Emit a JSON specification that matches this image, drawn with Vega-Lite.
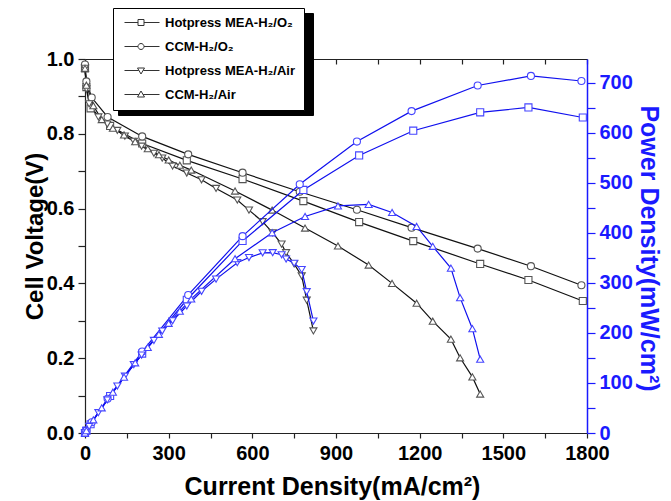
{
  "$schema": "https://vega.github.io/schema/vega-lite/v6.json",
  "width": 502,
  "height": 374,
  "autosize": {"type": "none"},
  "padding": {"left": 85, "top": 59, "right": 84, "bottom": 68},
  "background": "white",
  "config": {"view": {"stroke": null}, "font": "Liberation Sans"},
  "datasets": {
    "curves": [
    {"s": "Hotpress MEA-H₂/O₂", "j": 0, "v": 0.975, "p": 0},
    {"s": "Hotpress MEA-H₂/O₂", "j": 5, "v": 0.925, "p": 4.6},
    {"s": "Hotpress MEA-H₂/O₂", "j": 20, "v": 0.868, "p": 17.4},
    {"s": "Hotpress MEA-H₂/O₂", "j": 90, "v": 0.821, "p": 73.9},
    {"s": "Hotpress MEA-H₂/O₂", "j": 205, "v": 0.774, "p": 158.7},
    {"s": "Hotpress MEA-H₂/O₂", "j": 365, "v": 0.729, "p": 266.1},
    {"s": "Hotpress MEA-H₂/O₂", "j": 565, "v": 0.679, "p": 383.6},
    {"s": "Hotpress MEA-H₂/O₂", "j": 783, "v": 0.620, "p": 485.5},
    {"s": "Hotpress MEA-H₂/O₂", "j": 983, "v": 0.564, "p": 554.4},
    {"s": "Hotpress MEA-H₂/O₂", "j": 1177, "v": 0.513, "p": 603.8},
    {"s": "Hotpress MEA-H₂/O₂", "j": 1417, "v": 0.452, "p": 640.5},
    {"s": "Hotpress MEA-H₂/O₂", "j": 1590, "v": 0.409, "p": 650.3},
    {"s": "Hotpress MEA-H₂/O₂", "j": 1785, "v": 0.353, "p": 630.1},
    {"s": "CCM-H₂/O₂", "j": 0, "v": 0.985, "p": 0},
    {"s": "CCM-H₂/O₂", "j": 5, "v": 0.94, "p": 4.7},
    {"s": "CCM-H₂/O₂", "j": 24, "v": 0.897, "p": 21.5},
    {"s": "CCM-H₂/O₂", "j": 81, "v": 0.845, "p": 68.4},
    {"s": "CCM-H₂/O₂", "j": 205, "v": 0.793, "p": 162.6},
    {"s": "CCM-H₂/O₂", "j": 370, "v": 0.745, "p": 275.7},
    {"s": "CCM-H₂/O₂", "j": 565, "v": 0.696, "p": 393.2},
    {"s": "CCM-H₂/O₂", "j": 770, "v": 0.645, "p": 496.7},
    {"s": "CCM-H₂/O₂", "j": 975, "v": 0.597, "p": 582.1},
    {"s": "CCM-H₂/O₂", "j": 1171, "v": 0.549, "p": 642.9},
    {"s": "CCM-H₂/O₂", "j": 1408, "v": 0.493, "p": 694.1},
    {"s": "CCM-H₂/O₂", "j": 1599, "v": 0.446, "p": 713.2},
    {"s": "CCM-H₂/O₂", "j": 1780, "v": 0.395, "p": 703.1},
    {"s": "Hotpress MEA-H₂/Air", "j": 0, "v": 0.975, "p": 0},
    {"s": "Hotpress MEA-H₂/Air", "j": 5, "v": 0.92, "p": 4.6},
    {"s": "Hotpress MEA-H₂/Air", "j": 15, "v": 0.88, "p": 13.2},
    {"s": "Hotpress MEA-H₂/Air", "j": 48, "v": 0.845, "p": 40.6},
    {"s": "Hotpress MEA-H₂/Air", "j": 80, "v": 0.826, "p": 66.1},
    {"s": "Hotpress MEA-H₂/Air", "j": 116, "v": 0.809, "p": 93.8},
    {"s": "Hotpress MEA-H₂/Air", "j": 143, "v": 0.794, "p": 113.5},
    {"s": "Hotpress MEA-H₂/Air", "j": 175, "v": 0.78, "p": 136.5},
    {"s": "Hotpress MEA-H₂/Air", "j": 203, "v": 0.767, "p": 155.7},
    {"s": "Hotpress MEA-H₂/Air", "j": 247, "v": 0.748, "p": 184.8},
    {"s": "Hotpress MEA-H₂/Air", "j": 277, "v": 0.735, "p": 203.6},
    {"s": "Hotpress MEA-H₂/Air", "j": 314, "v": 0.714, "p": 224.2},
    {"s": "Hotpress MEA-H₂/Air", "j": 365, "v": 0.695, "p": 253.7},
    {"s": "Hotpress MEA-H₂/Air", "j": 418, "v": 0.677, "p": 283.0},
    {"s": "Hotpress MEA-H₂/Air", "j": 470, "v": 0.654, "p": 307.4},
    {"s": "Hotpress MEA-H₂/Air", "j": 546, "v": 0.623, "p": 340.2},
    {"s": "Hotpress MEA-H₂/Air", "j": 588, "v": 0.596, "p": 350.4},
    {"s": "Hotpress MEA-H₂/Air", "j": 637, "v": 0.565, "p": 359.9},
    {"s": "Hotpress MEA-H₂/Air", "j": 673, "v": 0.535, "p": 360.1},
    {"s": "Hotpress MEA-H₂/Air", "j": 705, "v": 0.505, "p": 356.0},
    {"s": "Hotpress MEA-H₂/Air", "j": 721, "v": 0.482, "p": 347.5},
    {"s": "Hotpress MEA-H₂/Air", "j": 750, "v": 0.452, "p": 339.0},
    {"s": "Hotpress MEA-H₂/Air", "j": 777, "v": 0.42, "p": 326.3},
    {"s": "Hotpress MEA-H₂/Air", "j": 795, "v": 0.355, "p": 282.2},
    {"s": "Hotpress MEA-H₂/Air", "j": 819, "v": 0.273, "p": 223.6},
    {"s": "CCM-H₂/Air", "j": 0, "v": 0.975, "p": 0},
    {"s": "CCM-H₂/Air", "j": 5, "v": 0.93, "p": 4.7},
    {"s": "CCM-H₂/Air", "j": 30, "v": 0.875, "p": 26.3},
    {"s": "CCM-H₂/Air", "j": 60, "v": 0.838, "p": 50.3},
    {"s": "CCM-H₂/Air", "j": 100, "v": 0.815, "p": 81.5},
    {"s": "CCM-H₂/Air", "j": 140, "v": 0.797, "p": 111.6},
    {"s": "CCM-H₂/Air", "j": 180, "v": 0.779, "p": 140.2},
    {"s": "CCM-H₂/Air", "j": 225, "v": 0.76, "p": 171.0},
    {"s": "CCM-H₂/Air", "j": 265, "v": 0.744, "p": 197.2},
    {"s": "CCM-H₂/Air", "j": 300, "v": 0.73, "p": 219.0},
    {"s": "CCM-H₂/Air", "j": 340, "v": 0.716, "p": 243.4},
    {"s": "CCM-H₂/Air", "j": 381, "v": 0.703, "p": 267.8},
    {"s": "CCM-H₂/Air", "j": 538, "v": 0.647, "p": 348.1},
    {"s": "CCM-H₂/Air", "j": 671, "v": 0.596, "p": 399.9},
    {"s": "CCM-H₂/Air", "j": 789, "v": 0.548, "p": 432.4},
    {"s": "CCM-H₂/Air", "j": 907, "v": 0.5, "p": 453.5},
    {"s": "CCM-H₂/Air", "j": 1017, "v": 0.449, "p": 456.6},
    {"s": "CCM-H₂/Air", "j": 1101, "v": 0.4, "p": 440.4},
    {"s": "CCM-H₂/Air", "j": 1189, "v": 0.347, "p": 412.6},
    {"s": "CCM-H₂/Air", "j": 1247, "v": 0.299, "p": 372.9},
    {"s": "CCM-H₂/Air", "j": 1312, "v": 0.251, "p": 329.3},
    {"s": "CCM-H₂/Air", "j": 1345, "v": 0.201, "p": 270.3},
    {"s": "CCM-H₂/Air", "j": 1389, "v": 0.15, "p": 208.4},
    {"s": "CCM-H₂/Air", "j": 1417, "v": 0.104, "p": 147.4}
    ],
    "legendrows": [
      {"name": "Hotpress MEA-H₂/O₂"},
      {"name": "CCM-H₂/O₂"},
      {"name": "Hotpress MEA-H₂/Air"},
      {"name": "CCM-H₂/Air"}
    ]
  },
  "data": {"name": "curves"},
  "layer": [
    {
      "encoding": {
        "x": {"field": "j", "type": "quantitative",
          "scale": {"domain": [0, 1800], "nice": false, "zero": false},
          "axis": {"orient": "bottom", "values": [0,150,300,450,600,750,900,1050,1200,1350,1500,1650,1800],
            "labelExpr": "datum.value % 300 == 0 ? datum.value : ''",
            "labelFont": "Liberation Sans", "labelFontSize": 20, "labelFontWeight": "bold", "labelColor": "black",
            "labelPadding": 5, "labelFlush": false, "labelOverlap": false,
            "encode": {"labels": {"update": {"dx": {"signal": "datum.value == 1800 ? -12 : -3"}}}},
            "tickSize": 5, "tickColor": "#222", "tickWidth": 1.2, "domainColor": "#222", "domainWidth": 1.2, "grid": false,
            "title": "Current Density(mA/cm²)", "titleFont": "Liberation Sans", "titleFontSize": 25, "titleFontWeight": "bold", "titleColor": "black",
            "titleX": 247, "titleY": 61, "titleBaseline": "alphabetic", "titleAlign": "center", "titleAnchor": null}},
        "y": {"field": "v", "type": "quantitative",
          "scale": {"domain": [0, 1], "nice": false, "zero": false},
          "axis": {"orient": "left", "values": [0,0.1,0.2,0.3,0.4,0.5,0.6,0.7,0.8,0.9,1.0],
            "labelExpr": "round(datum.value*10) % 2 == 0 ? format(datum.value, '.1f') : ''",
            "labelFont": "Liberation Sans", "labelFontSize": 20, "labelFontWeight": "bold", "labelColor": "black",
            "labelPadding": 4, "labelFlush": false, "labelOverlap": false,
            "tickSize": 7, "tickColor": "#222", "tickWidth": 1.2, "domainColor": "#222", "domainWidth": 1.2, "grid": false,
            "encode": {"ticks": {"update": {"x2": {"signal": "round(datum.value*10) % 2 == 0 ? -7 : -4"}}}},
            "title": "Cell Voltage(V)", "titleFont": "Liberation Sans", "titleFontSize": 24, "titleFontWeight": "bold", "titleColor": "black",
            "titleX": -43, "titleY": 177, "titleBaseline": "alphabetic", "titleAlign": "center", "titleAnchor": null}}
      },
      "layer": [
        {"mark": {"type": "line", "color": "#111", "strokeWidth": 1.2},
         "encoding": {"detail": {"field": "s"}}},
        {"mark": {"type": "point", "filled": false, "fill": "white", "fillOpacity": 1, "stroke": "#555", "strokeWidth": 1.1, "size": 50, "opacity": 1},
         "encoding": {"shape": {"field": "s", "type": "nominal",
           "scale": {"domain": ["Hotpress MEA-H₂/O₂","CCM-H₂/O₂","Hotpress MEA-H₂/Air","CCM-H₂/Air"], "range": ["square","circle","triangle-down","triangle-up"]},
           "legend": null}}}
      ]
    },
    {
      "encoding": {
        "x": {"field": "j", "type": "quantitative",
          "scale": {"domain": [0, 1800], "nice": false, "zero": false},
          "axis": {"orient": "top", "values": [0,150,300,450,600,750,900,1050,1200,1350,1500,1650,1800],
            "labels": false, "tickSize": -5, "tickColor": "#222", "tickWidth": 1.2, "domainColor": "#222", "domainWidth": 1.2, "grid": false, "title": null}},
        "y": {"field": "p", "type": "quantitative",
          "scale": {"domain": [0, 747], "nice": false, "zero": false},
          "axis": {"orient": "right", "values": [0,50,100,150,200,250,300,350,400,450,500,550,600,650,700],
            "labelExpr": "datum.value % 100 == 0 ? datum.value : ''",
            "labelFont": "Liberation Sans", "labelFontSize": 20, "labelFontWeight": "bold", "labelColor": "#1a1aff",
            "labelPadding": 4, "labelFlush": false, "labelOverlap": false,
            "tickSize": 8, "tickColor": "#1a1aff", "tickWidth": 1.2, "domainColor": "#1a1aff", "domainWidth": 1.5, "grid": false,
            "encode": {"ticks": {"update": {"x2": {"signal": "datum.value % 100 == 0 ? 8 : 4"}}}},
            "title": "Power Density(mW/cm²)", "titleFont": "Liberation Sans", "titleFontSize": 25, "titleFontWeight": "bold", "titleColor": "#1a1aff",
            "titleX": 53, "titleY": 189, "titleBaseline": "alphabetic", "titleAlign": "center", "titleAnchor": null, "titleAngle": 90}}
      },
      "layer": [
        {"mark": {"type": "line", "color": "#1010ee", "strokeWidth": 1.2},
         "encoding": {"detail": {"field": "s"}}},
        {"mark": {"type": "point", "filled": false, "fill": "white", "fillOpacity": 1, "stroke": "#4545ff", "strokeWidth": 1.1, "size": 50, "opacity": 1},
         "encoding": {"shape": {"field": "s", "type": "nominal",
           "scale": {"domain": ["Hotpress MEA-H₂/O₂","CCM-H₂/O₂","Hotpress MEA-H₂/Air","CCM-H₂/Air"], "range": ["square","circle","triangle-down","triangle-up"]},
           "legend": null}}}
      ]
    },
    {
      "data": {"name": "legendrows"},
      "mark": {"type": "point", "opacity": 0, "filled": false},
      "encoding": {"shape": {"field": "name", "type": "nominal",
        "scale": {"domain": ["Hotpress MEA-H₂/O₂","CCM-H₂/O₂","Hotpress MEA-H₂/Air","CCM-H₂/Air"],
          "range": ["M-0.6,0H2.1M3.3,0H6.4M2.1,-0.6H3.3V0.6H2.1Z","M-0.6,0H2.1M3.3,0H6.4M3.3,0A0.6,0.6,0,1,1,2.1,0A0.6,0.6,0,1,1,3.3,0Z","M-0.6,0H2.25M3.15,0H6.4M2.0,-0.5H3.4L2.7,0.7Z","M-0.6,0H2.29M3.11,0H6.4M2.0,0.5H3.4L2.7,-0.7Z"]},
        "legend": {"orient": "none", "legendX": 33, "legendY": -46, "title": null, "direction": "vertical", "zindex": 1,
          "labelFont": "Liberation Sans", "labelFontSize": 13, "labelFontWeight": "bold", "labelColor": "black", "labelOpacity": 0,
          "labelExpr": "''",
          "symbolSize": 100, "labelOffset": 166, "rowPadding": 10, "padding": 8,
          "symbolOpacity": 0, "strokeColor": "black", "fillColor": "black"}}}
    },
    {
      "data": {"name": "legendrows"},
      "mark": {"type": "point", "opacity": 0, "filled": false},
      "encoding": {"shape": {"field": "name", "type": "nominal",
        "scale": {"domain": ["Hotpress MEA-H₂/O₂","CCM-H₂/O₂","Hotpress MEA-H₂/Air","CCM-H₂/Air"],
          "range": ["M-0.6,0H2.1M3.3,0H6.4M2.1,-0.6H3.3V0.6H2.1Z","M-0.6,0H2.1M3.3,0H6.4M3.3,0A0.6,0.6,0,1,1,2.1,0A0.6,0.6,0,1,1,3.3,0Z","M-0.6,0H2.25M3.15,0H6.4M2.0,-0.5H3.4L2.7,0.7Z","M-0.6,0H2.29M3.11,0H6.4M2.0,0.5H3.4L2.7,-0.7Z"]},
        "legend": {"orient": "none", "legendX": 28, "legendY": -51, "title": null, "direction": "vertical", "zindex": 2,
          "labelFont": "Liberation Sans", "labelFontSize": 13, "labelFontWeight": "bold", "labelColor": "black",
          "symbolSize": 100, "labelOffset": 31, "rowPadding": 10, "padding": 8,
          "symbolOpacity": 1, "symbolStrokeColor": "#333", "symbolFillColor": "white", "symbolStrokeWidth": 1,
          "strokeColor": "black", "fillColor": "white"}}}
    }
  ],
  "resolve": {"scale": {"y": "independent", "shape": "independent"}, "axis": {"x": "independent", "y": "independent"}, "legend": {"shape": "independent"}}
}
